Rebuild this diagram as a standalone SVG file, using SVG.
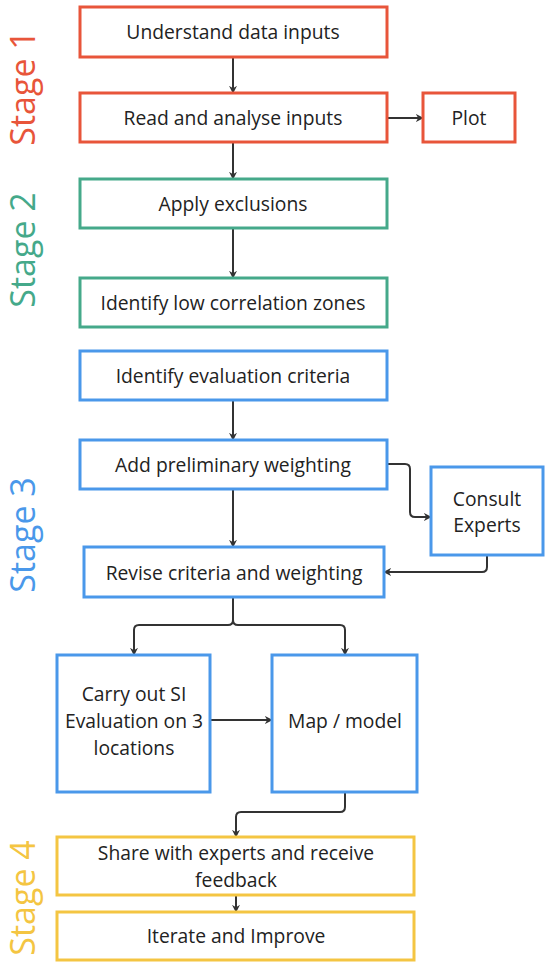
<svg xmlns="http://www.w3.org/2000/svg" width="550" height="970" viewBox="0 0 550 970">
<style>
.box{fill:#fff;stroke-width:3}
.r{stroke:#E8553A}.g{stroke:#45A98A}.b{stroke:#4A98EA}.y{stroke:#F4C542}
.t{font-family:"Open Sans","Liberation Sans",sans-serif;font-size:19.3px;fill:#222;text-anchor:middle}
.st{font-family:"Open Sans","Liberation Sans",sans-serif;font-size:34px;text-anchor:middle}
.c{fill:none;stroke:#333;stroke-width:2;marker-end:url(#ah)}
</style>
<defs>
<marker id="ah" viewBox="0 0 10 10" refX="9" refY="5" markerWidth="8" markerHeight="8" orient="auto" markerUnits="userSpaceOnUse">
<path d="M0,0 L10,5 L0,10 L3,5 z" fill="#333"/>
</marker>
</defs>
<rect width="550" height="970" fill="#fff"/>
<g id="labels">
<text class="st" transform="translate(35,88) rotate(-90)" fill="#E8553A">Stage 1</text>
<text class="st" transform="translate(35,250) rotate(-90)" fill="#45A98A">Stage 2</text>
<text class="st" transform="translate(35,535) rotate(-90)" fill="#4A98EA">Stage 3</text>
<text class="st" transform="translate(35,898) rotate(-90)" fill="#F4C542">Stage 4</text>
</g>
<g id="connectors">
<path class="c" d="M233,57 V93"/>
<path class="c" d="M387,118 H423"/>
<path class="c" d="M233,142 V179"/>
<path class="c" d="M233,228 V278"/>
<path class="c" d="M233,400 V440"/>
<path class="c" d="M387,464 H405 Q410,464 410,469 V512 Q410,517 415,517 H431"/>
<path class="c" d="M233,489 V547"/>
<path class="c" d="M487,555 V567 Q487,572 482,572 H384"/>
<path class="c" d="M233,597 V620 Q233,625 228,625 H139 Q134,625 134,630 V655"/>
<path class="c" d="M233,620 Q233,625 238,625 H340 Q345,625 345,630 V655"/>
<path class="c" d="M210,720 H272"/>
<path class="c" d="M345,792 V807 Q345,812 340,812 H241 Q236,812 236,817 V837"/>
<path class="c" d="M236,895 V912"/>
</g>
<g id="n1"><rect class="box r" x="80" y="7" width="307" height="50"/><text class="t" x="233" y="39">Understand data inputs</text></g>
<g id="n2"><rect class="box r" x="80" y="93" width="307" height="49"/><text class="t" x="233" y="125">Read and analyse inputs</text></g>
<g id="n3"><rect class="box r" x="423" y="93" width="92" height="49"/><text class="t" x="469" y="125">Plot</text></g>
<g id="n4"><rect class="box g" x="80" y="179" width="307" height="49"/><text class="t" x="233" y="211">Apply exclusions</text></g>
<g id="n5"><rect class="box g" x="80" y="278" width="307" height="49"/><text class="t" x="233" y="310">Identify low correlation zones</text></g>
<g id="n6"><rect class="box b" x="80" y="351" width="307" height="49"/><text class="t" x="233" y="383">Identify evaluation criteria</text></g>
<g id="n7"><rect class="box b" x="80" y="440" width="307" height="49"/><text class="t" x="233" y="472">Add preliminary weighting</text></g>
<g id="n8"><rect class="box b" x="431" y="467" width="112" height="88"/><text class="t" x="487" y="506">Consult</text><text class="t" x="487" y="532">Experts</text></g>
<g id="n9"><rect class="box b" x="84" y="547" width="300" height="50"/><text class="t" x="234" y="580">Revise criteria and weighting</text></g>
<g id="n10"><rect class="box b" x="57" y="655" width="153" height="137"/><text class="t" x="134" y="701">Carry out SI</text><text class="t" x="134" y="728">Evaluation on 3</text><text class="t" x="134" y="755">locations</text></g>
<g id="n11"><rect class="box b" x="272" y="655" width="145" height="137"/><text class="t" x="345" y="728">Map / model</text></g>
<g id="n12"><rect class="box y" x="57" y="837" width="357" height="58"/><text class="t" x="236" y="860">Share with experts and receive</text><text class="t" x="236" y="887">feedback</text></g>
<g id="n13"><rect class="box y" x="57" y="912" width="357" height="48"/><text class="t" x="236" y="943">Iterate and Improve</text></g>
</svg>
